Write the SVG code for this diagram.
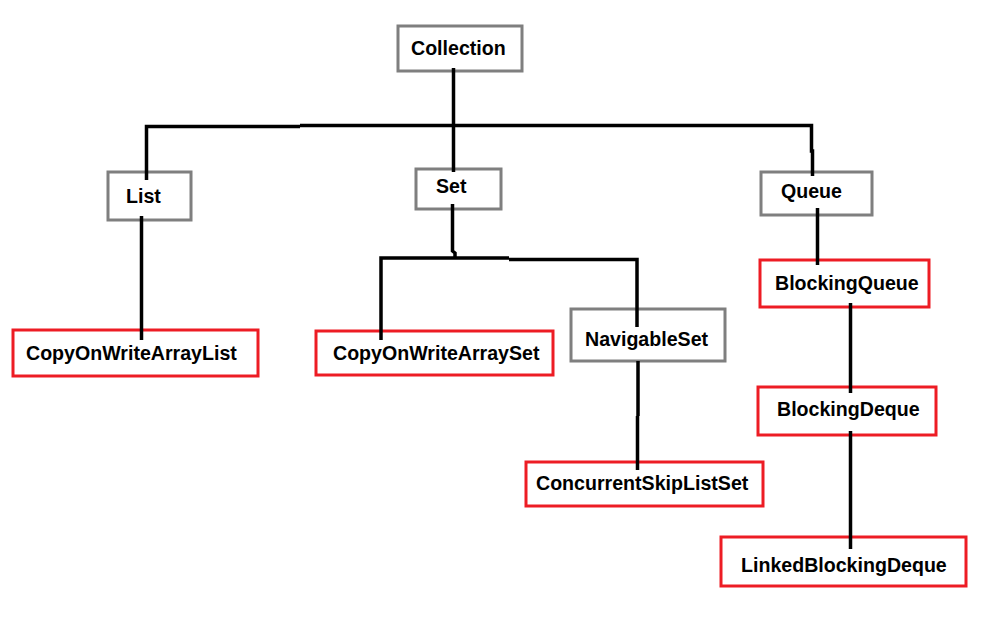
<svg xmlns="http://www.w3.org/2000/svg" width="1008" height="638" viewBox="0 0 1008 638">
<style>
.bg{fill:#ffffff}
.gray{fill:none;stroke:#7f7f7f;stroke-width:3}
.red{fill:none;stroke:#ed1c24;stroke-width:3}
.lbl{font-family:"Liberation Sans",Arial,sans-serif;font-weight:bold;font-size:19.6px;fill:#000000}
.conn path{fill:none;stroke:#000000;stroke-width:3.5}
</style>
<rect class="bg" x="0" y="0" width="1008" height="638"/>
<g id="Collection"><rect class="gray" x="398" y="26" width="124" height="45"/><text class="lbl" x="411" y="55">Collection</text></g>
<g id="List"><rect class="gray" x="108" y="172" width="83" height="48"/><text class="lbl" x="126" y="203">List</text></g>
<g id="Set"><rect class="gray" x="416" y="169" width="85" height="40"/><text class="lbl" x="436" y="193">Set</text></g>
<g id="Queue"><rect class="gray" x="761" y="172" width="111" height="43"/><text class="lbl" x="781" y="198">Queue</text></g>
<g id="CopyOnWriteArrayList"><rect class="red" x="13" y="330" width="245" height="46"/><text class="lbl" x="26" y="360">CopyOnWriteArrayList</text></g>
<g id="CopyOnWriteArraySet"><rect class="red" x="316" y="331" width="237" height="44"/><text class="lbl" x="333" y="360">CopyOnWriteArraySet</text></g>
<g id="NavigableSet"><rect class="gray" x="571" y="309" width="154" height="52"/><text class="lbl" x="585" y="346">NavigableSet</text></g>
<g id="ConcurrentSkipListSet"><rect class="red" x="526" y="462" width="237" height="44"/><text class="lbl" x="536" y="490">ConcurrentSkipListSet</text></g>
<g id="BlockingQueue"><rect class="red" x="760" y="260" width="169" height="47"/><text class="lbl" x="775" y="290">BlockingQueue</text></g>
<g id="BlockingDeque"><rect class="red" x="758" y="387" width="178" height="48"/><text class="lbl" x="777" y="416">BlockingDeque</text></g>
<g id="LinkedBlockingDeque"><rect class="red" x="721" y="537" width="245" height="49"/><text class="lbl" x="741" y="572">LinkedBlockingDeque</text></g>
<g id="connectors" class="conn">
<path d="M453.5,68 V172"/>
<path d="M146.5,180 V126.5 H300"/>
<path d="M300,125.5 H811.5 V151 H812.5 V176"/>
<path d="M141.5,216 V340"/>
<path d="M452.5,204 V251 L455,253 V259"/>
<path d="M381,340 V258 H509"/>
<path d="M509,259.5 H637 V327"/>
<path d="M638,361 V416 M637.5,416 V470"/>
<path d="M817.5,208 V265"/>
<path d="M850.5,303 V393"/>
<path d="M850.5,431 V549"/>
</g>
</svg>
